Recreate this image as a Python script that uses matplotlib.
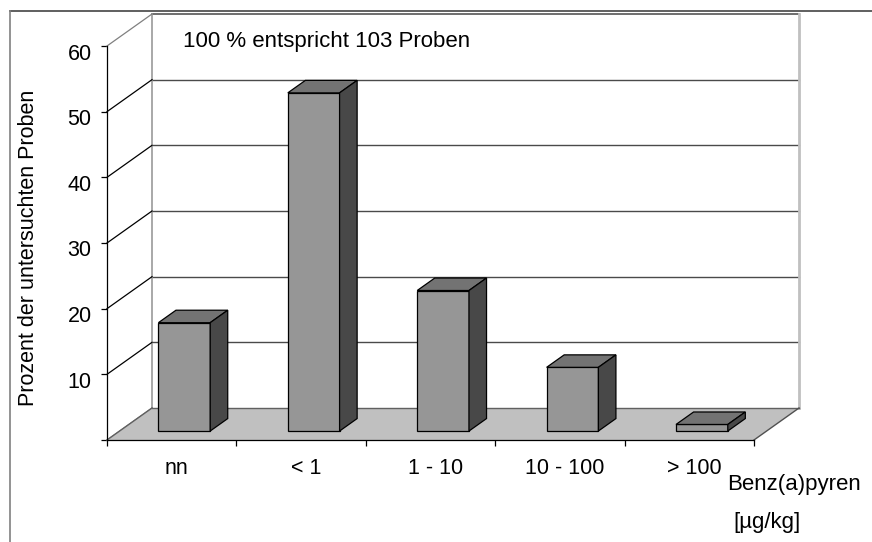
import matplotlib
matplotlib.use('Agg')
import matplotlib.pyplot as plt
from matplotlib.patches import Polygon
from matplotlib.lines import Line2D
from matplotlib.transforms import ScaledTranslation

# ---- data ----
categories = ['nn', '< 1', '1 - 10', '10 - 100', '> 100']
values = [16.5, 51.5, 21.4, 9.7, 1.0]
yticks = [0, 10, 20, 30, 40, 50, 60]
ytick_labels = ['', '10', '20', '30', '40', '50', '60']
ylabel = 'Prozent der untersuchten Proben'
note = '100 % entspricht 103 Proben'
xlabel1 = 'Benz(a)pyren'
xlabel2 = '[µg/kg]'

plt.rcParams['font.family'] = ['Liberation Sans', 'DejaVu Sans']

W, H = 872, 542
fig = plt.figure(figsize=(W / 100, H / 100), dpi=100)
fig.patch.set_facecolor('white')

X0, X1, Y0, Y1 = 107, 754, 440, 46   # front plane pixel extents
ax = fig.add_axes([X0 / W, 1 - Y0 / H, (X1 - X0) / W, (Y0 - Y1) / H])
ncat = len(categories)
ax.set_xlim(0, ncat)
ax.set_ylim(0, 60)
ax.patch.set_visible(False)
for s in ['top', 'right']:
    ax.spines[s].set_visible(False)
for s in ['left', 'bottom']:
    ax.spines[s].set_color('black')
    ax.spines[s].set_linewidth(0.9)
    ax.spines[s].set_zorder(6)
ax.set_xticks(range(ncat + 1))
ax.set_xticklabels([])
ax.set_yticks(yticks)
ax.set_yticklabels([])
ax.tick_params(direction='out', length=4.5, width=0.9, color='black')

ux = (X1 - X0) / ncat       # px per category
uy = (Y0 - Y1) / 60.0       # px per value unit
DX, DY = 45.0, 32.0         # depth offset in px


def P(x, y, d):
    return (x + d * DX / ux, y + d * DY / uy)


def off(dx, dy):
    return ScaledTranslation(dx / 100.0, dy / 100.0, fig.dpi_scale_trans)


# back wall
wall = Polygon([P(0, 0, 1), P(ncat, 0, 1), P(ncat, 60, 1), P(0, 60, 1)],
               closed=True, facecolor='white', edgecolor='none', zorder=1)
ax.add_patch(wall)
for v in yticks[1:-1]:
    a, b = P(0, v, 1), P(ncat, v, 1)
    ax.plot([a[0], b[0]], [a[1], b[1]], color='#4a4a4a', lw=1.0, zorder=2, clip_on=False)
a, b = P(0, 60, 1), P(ncat, 60, 1)
ax.plot([a[0], b[0]], [a[1], b[1]], color='#555555', lw=1.2, zorder=2, clip_on=False)
a, b = P(0, 0, 1), P(0, 60, 1)
ax.plot([a[0], b[0]], [a[1], b[1]], color='#999999', lw=1.2, zorder=2, clip_on=False)
a, b = P(ncat, 0, 1), P(ncat, 60, 1)
ax.plot([a[0], b[0]], [a[1], b[1]], color='#c0c0c0', lw=2.0, zorder=2, clip_on=False)

# left wall diagonals
for v in yticks:
    a, b = P(0, v, 0), P(0, v, 1)
    col = '#808080' if v in (0, 60) else 'black'
    ax.plot([a[0], b[0]], [a[1], b[1]], color=col, lw=0.9, zorder=2, clip_on=False)

# floor
floor = Polygon([P(0, 0, 0), P(ncat, 0, 0), P(ncat, 0, 1), P(0, 0, 1)],
                closed=True, facecolor='#c0c0c0', edgecolor='none', zorder=3, clip_on=False)
ax.add_patch(floor)
a, b = P(0, 0, 1), P(ncat, 0, 1)
ax.plot([a[0], b[0]], [a[1], b[1]], color='#606060', lw=1.0, zorder=3.5, clip_on=False)
a, b = P(ncat, 0, 0), P(ncat, 0, 1)
ax.plot([a[0], b[0]], [a[1], b[1]], color='#505050', lw=1.0, zorder=3.5, clip_on=False)
a, b = P(0, 0, 0), P(0, 0, 1)
ax.plot([a[0], b[0]], [a[1], b[1]], color='#606060', lw=1.0, zorder=3.5, clip_on=False)

# bars
BW = 0.4
D0, D1 = 0.28, 0.67
for i, v in enumerate(values):
    x0, x1 = i + 0.5 - BW / 2, i + 0.5 + BW / 2
    front = Polygon([P(x0, 0, D0), P(x1, 0, D0), P(x1, v, D0), P(x0, v, D0)],
                    closed=True, facecolor='#969696', edgecolor='black', lw=0.9,
                    zorder=5, clip_on=False)
    top = Polygon([P(x0, v, D0), P(x1, v, D0), P(x1, v, D1), P(x0, v, D1)],
                  closed=True, facecolor='#737373', edgecolor='black', lw=0.9,
                  zorder=5, clip_on=False)
    side = Polygon([P(x1, 0, D0), P(x1, 0, D1), P(x1, v, D1), P(x1, v, D0)],
                   closed=True, facecolor='#484848', edgecolor='black', lw=0.9,
                   zorder=5, clip_on=False)
    for p in (front, top, side):
        ax.add_patch(p)

FS = 15.5
# y tick labels
for v, lbl in zip(yticks, ytick_labels):
    if lbl:
        ax.text(0, v, lbl, transform=ax.transData + off(-15.5, -13.5),
                ha='right', va='baseline', fontsize=FS, color='black')

# category labels
for i, c in enumerate(categories):
    ax.text(i + 0.5, 0, c, transform=ax.transData + off(5, -33.5),
            ha='center', va='baseline', fontsize=FS, color='black')

# texts
fig.text(183 / W, 1 - 47.3 / H, note, ha='left', va='baseline', fontsize=16, color='black')
fig.text(29 / W, 1 - 248 / H, ylabel, rotation=90, ha='center', va='center',
         fontsize=15.5, color='black')
fig.text(727 / W, 1 - 490 / H, xlabel1, ha='left', va='baseline', fontsize=16, color='black')
fig.text(733 / W, 1 - 528 / H, xlabel2, ha='left', va='baseline', fontsize=16, color='black')

# outer chart frame
fig.add_artist(Line2D([10 / W, 1.0], [1 - 11 / H, 1 - 11 / H], transform=fig.transFigure,
                      color='#444444', lw=1.2))
fig.add_artist(Line2D([10 / W, 10 / W], [1 - 11 / H, 0.0], transform=fig.transFigure,
                      color='#808080', lw=1.2))

fig.savefig('out.png', dpi=100, facecolor='white')
